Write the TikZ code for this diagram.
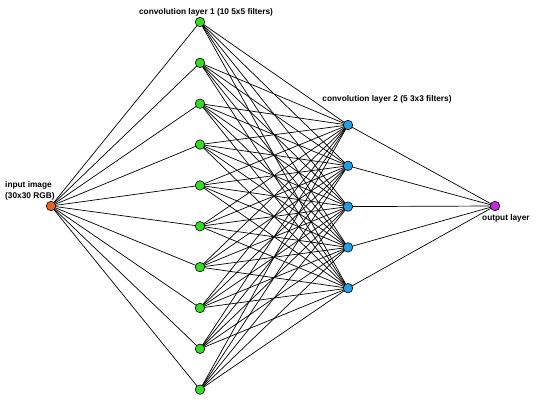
\documentclass[tikz,border=0pt]{standalone}
\usepackage{fontspec}
\setmainfont{Liberation Sans}
\definecolor{inpc}{RGB}{232,100,28}
\definecolor{l1c}{RGB}{50,222,30}
\definecolor{l2c}{RGB}{30,160,232}
\definecolor{outc}{RGB}{204,34,236}
\begin{document}
\begin{tikzpicture}[x=1pt,y=-1pt,
  neuron/.style={circle,draw=black,line width=0.6pt,minimum size=9.5pt,inner sep=0pt},
  inpn/.style={neuron,fill=inpc},
  l1n/.style={neuron,fill=l1c},
  l2n/.style={neuron,fill=l2c},
  outn/.style={neuron,fill=outc},
  conn/.style={draw=black,line width=0.7pt},
  lbl/.style={font=\fontsize{8.3}{10.5}\selectfont\bfseries,inner sep=0pt}]
\useasboundingbox (0,0) rectangle (540,406);
% coordinates of the neurons
\coordinate (in) at (51,206);
\foreach \i in {1,...,10} { \coordinate (a\i) at (200,{22+(\i-1)*40.85}); }
\foreach \j in {1,...,5} { \coordinate (b\j) at (348,{125+(\j-1)*40.8}); }
\coordinate (out) at (495,206);
% connectors
\foreach \i in {1,...,10} {
  \draw[conn] (in) -- (a\i);
  \foreach \j in {1,...,5} { \draw[conn] (a\i) -- (b\j); }
}
\foreach \j in {1,...,5} { \draw[conn] (b\j) -- (out); }
% neurons on top
\node[inpn] (nin) at (in) {};
\foreach \i in {1,...,10} { \node[l1n] (na\i) at (a\i) {}; }
\foreach \j in {1,...,5} { \node[l2n] (nb\j) at (b\j) {}; }
\node[outn] (nout) at (out) {};
% labels
\node[lbl] (t1) at (206,12.5) {convolution layer 1 (10 5x5 filters)};
\node[lbl] (t2) at (387,99) {convolution layer 2 (5 3x3 filters)};
\node[lbl,align=left,anchor=west] (tin) at (5,191) {input image\\(30x30 RGB)};
\node[lbl,anchor=west] (tout) at (482,218.5) {output layer};
\end{tikzpicture}
\end{document}
